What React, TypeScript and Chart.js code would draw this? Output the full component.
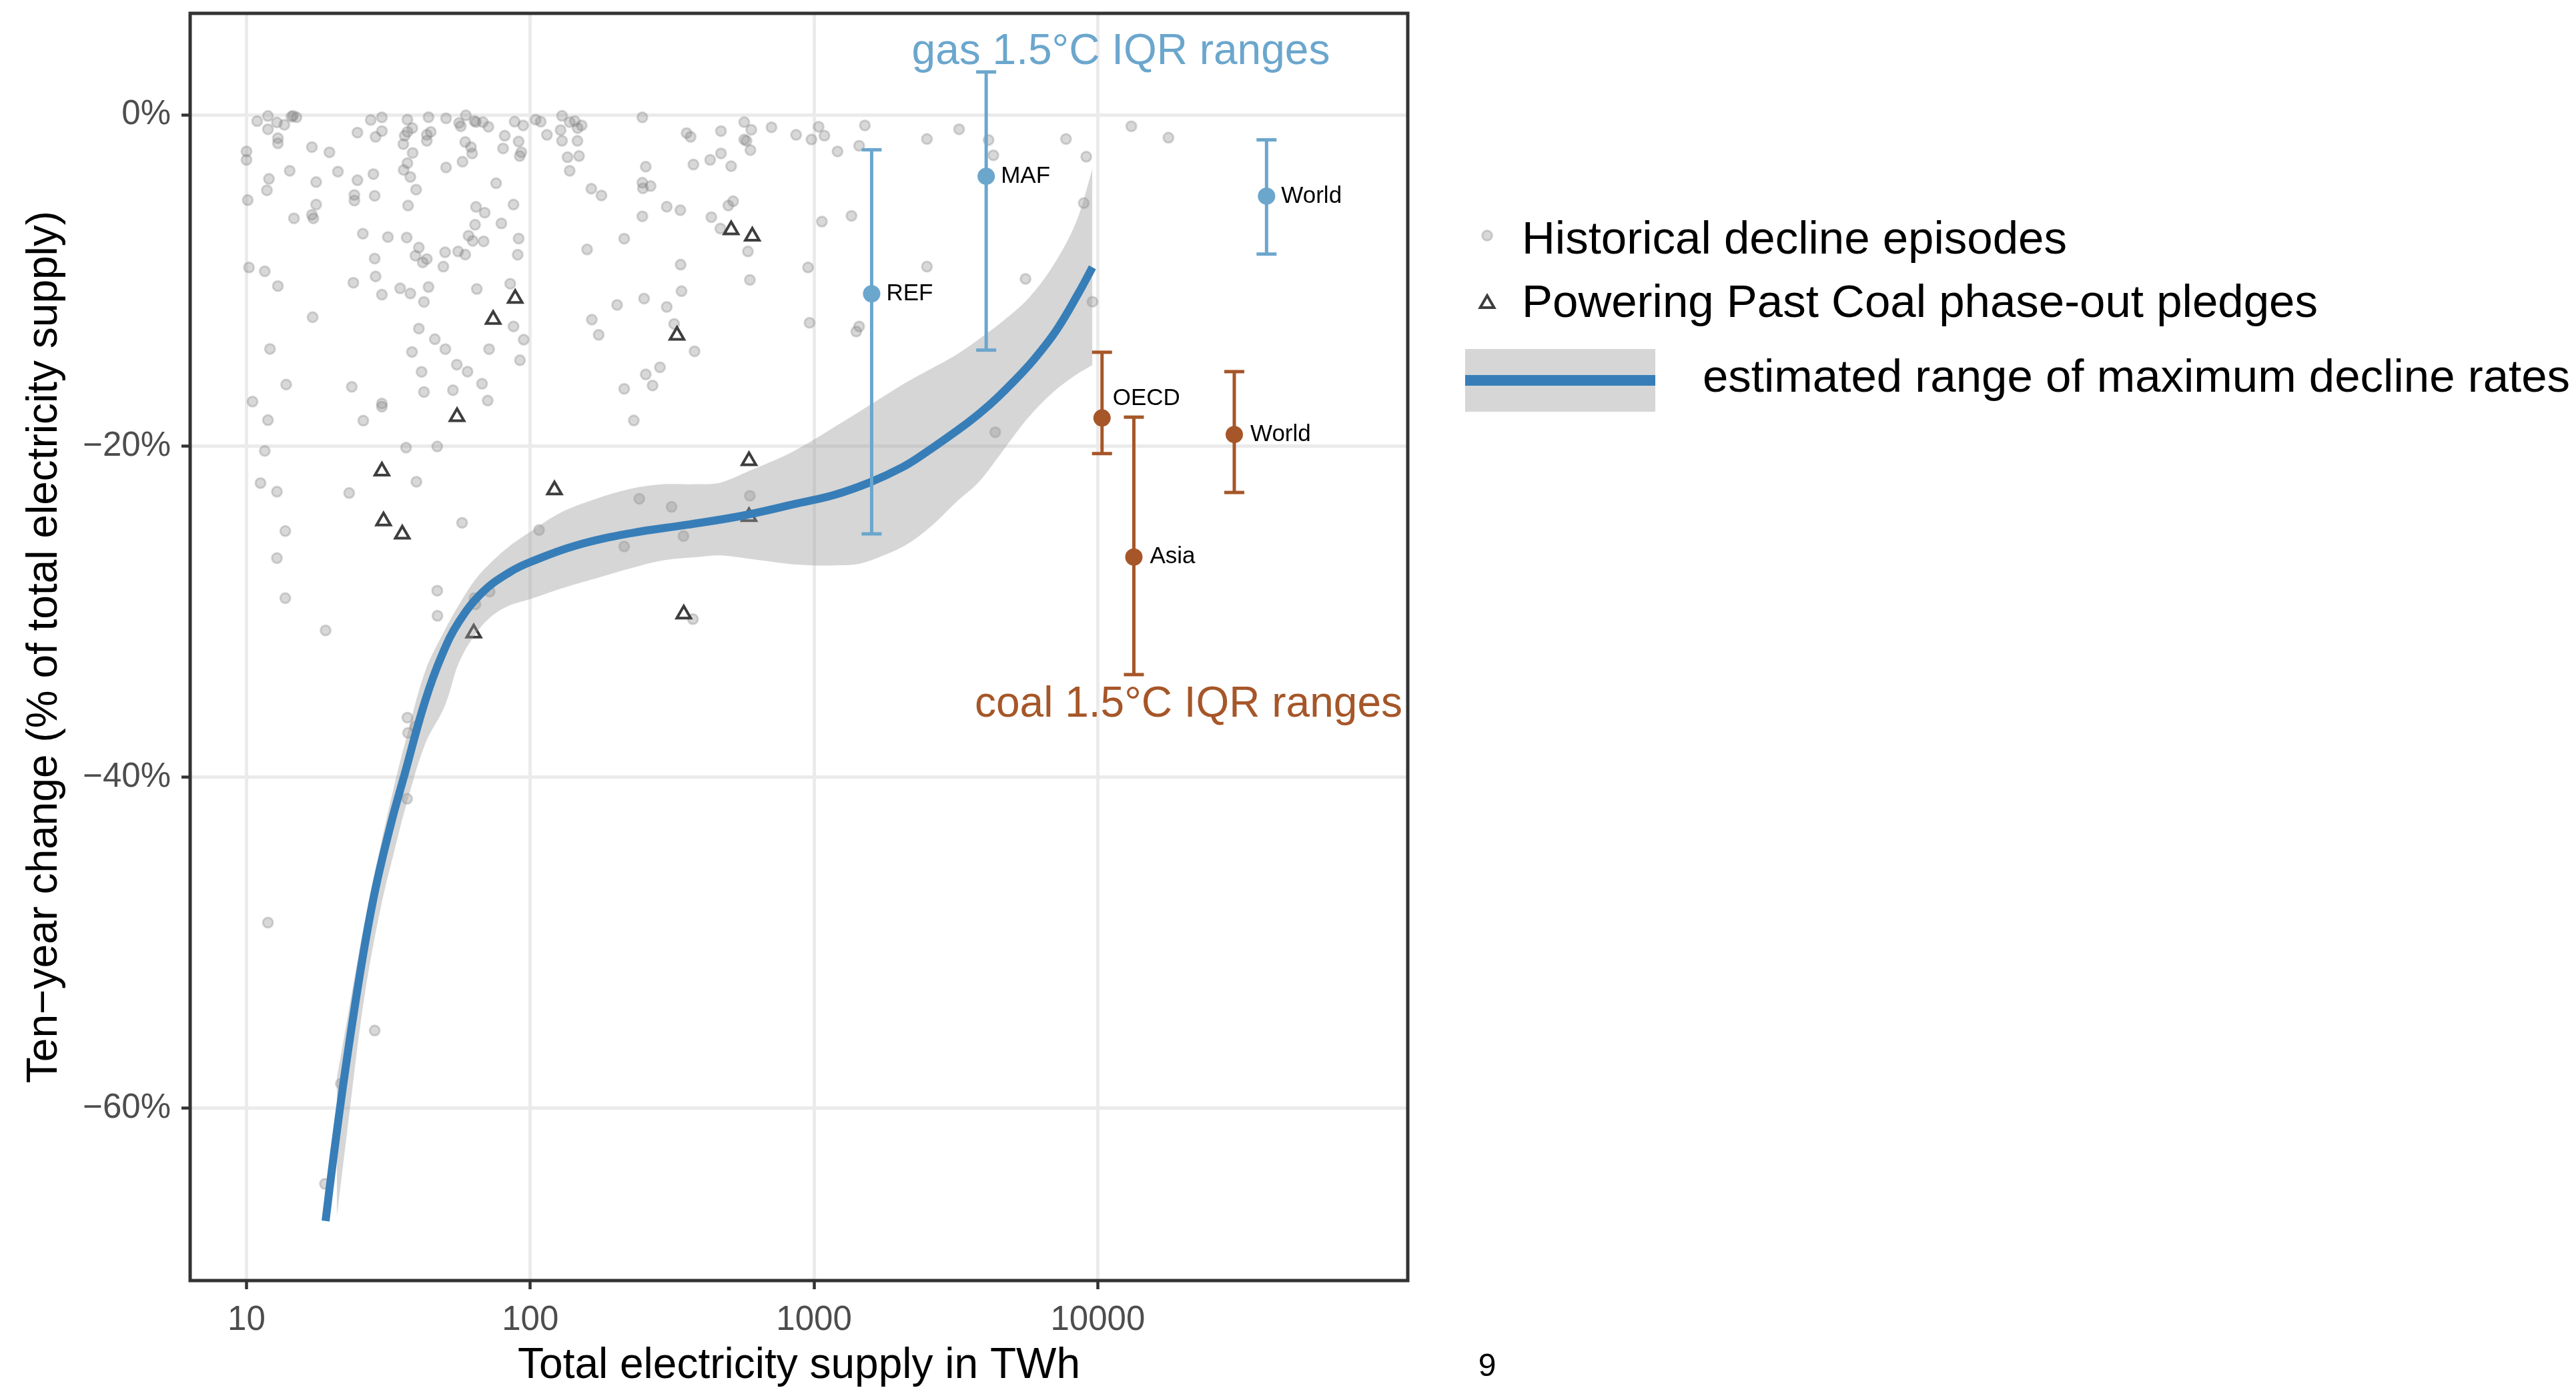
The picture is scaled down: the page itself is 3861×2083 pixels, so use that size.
import React, { useEffect, useRef } from 'react';
import { Chart, registerables } from 'chart.js';

Chart.register(...registerables);

const W = 3861;
const H = 2083;
const FONT = '"Liberation Sans", Arial, Helvetica, sans-serif';

// ---------- tick values ----------
const xTicks = [10, 100, 1000, 10000];
const yTicks = [-60, -40, -20, 0];

// ---------- historical decline episodes (TWh, % change) ----------
const histX = [
  10.9, 11.9, 11.9, 12.8, 13.6, 14.4, 14.6, 15.0, 27.4, 30.0, 36.9, 43.8, 50.5, 56.1, 56.9, 59.3, 63.6, 64.4, 68.1, 71.2,
  88.1, 94.4, 104.5, 108.9, 129.4, 137.7, 143.6, 146.9, 151.8, 248.3, 24.6, 28.5, 30.0, 36.9, 38.4, 36.1, 35.7, 43.2, 44.6, 43.2,
  59.0, 61.8, 62.4, 81.3, 91.0, 80.2, 91.8, 93.0, 114.5, 127.9, 129.4, 146.6, 135.3, 148.6, 355.6, 367.3, 10.0, 10.0, 12.9, 12.9,
  17.0, 19.6, 38.5, 470, 470, 36.9, 35.8, 37.8, 14.2, 21.0, 12.0, 11.8, 17.6, 24.6, 28.0, 57.7, 50.5, 75.8, 137.7, 255.3,
  375.8, 430.5, 248.3, 249.5, 265.5, 164.1, 178.2, 10.1, 17.6, 24.0, 24.0, 28.3, 39.6, 37.1, 64.4, 69.1, 87.3, 302.7, 338.0, 248.3,
  434.5, 467.7, 14.7, 17.0, 17.2, 25.7, 31.5, 36.7, 63.9, 79.1, 60.6, 62.7, 68.5, 91.0, 40.5, 39.4, 41.8, 43.2, 50.1, 55.7,
  59.0, 90.3, 49.4, 28.3, 158.6, 214.3, 338.8, 10.2, 11.6, 12.9, 23.8, 28.5, 30.0, 34.8, 37.8, 43.8, 42.2, 64.8, 85.0, 202.3,
  251.8, 302.7, 341.2, 17.1, 40.5, 87.3, 94.8, 46.1, 50.2, 71.6, 164.8, 174.2, 321.4, 379.3, 12.1, 38.3, 92.0, 55.1, 60.1, 41.4,
  286.4, 255.3, 269.8, 214.3, 13.8, 23.5, 42.2, 53.4, 67.6, 10.5, 30.0, 70.8, 11.9, 30.0, 25.8, 231.7, 11.6, 36.5, 47.0, 11.2,
  12.8, 23.0, 39.7, 13.7, 57.5, 12.8, 47.0, 13.7, 63.6, 71.9, 64.1, 47.1, 19.0, 107.4, 242.2, 314.8, 346.7, 214.3, 374.3, 36.9,
  39.3, 37.1, 11.9, 28.3, 21.5, 18.9, 36.8, 498.9, 510.5, 518.8, 567.5, 567.5, 578.1, 584.8, 594.3, 596.8, 601.0, 708.0, 864.8, 952.7,
  964.4, 979.5, 1038, 1066, 1088, 1210, 1355, 1409, 1442, 1442, 1511, 2500, 2500, 3245, 4121, 4285, 5562, 7727, 8928, 9106,
  9575, 13130, 17740, 594, 4352,
];
const histY = [
  -0.37, -0.06, -0.86, -0.45, -0.59, -0.10, -0.05, -0.14, -0.30, -0.14, -0.28, -0.13, -0.20, -0.48, -0.68, -0.02, -0.36, -0.43, -0.43, -0.71,
  -0.40, -0.63, -0.28, -0.40, -0.05, -0.43, -0.37, -0.79, -0.63, -0.14, -1.06, -1.32, -0.97, -1.02, -0.79, -1.25, -1.76, -1.56, -1.02, -1.20,
  -1.63, -1.94, -2.32, -1.25, -1.60, -2.02, -2.48, -2.25, -1.20, -0.91, -1.56, -1.56, -2.55, -2.48, -1.09, -1.32, -2.20, -2.71, -1.40, -1.71,
  -1.94, -2.25, -2.29, -0.97, -2.32, -2.91, -3.32, -3.74, -3.37, -3.42, -3.86, -4.55, -4.05, -3.94, -3.57, -2.82, -3.17, -4.12, -3.37, -3.12,
  -2.99, -2.71, -4.09, -4.43, -4.29, -4.45, -4.86, -5.14, -5.41, -4.83, -5.17, -4.88, -4.51, -5.47, -5.55, -5.90, -5.41, -5.54, -5.75, -6.12,
  -6.17, -6.86, -6.24, -6.03, -6.24, -7.17, -7.37, -7.40, -6.63, -6.55, -7.29, -7.60, -7.63, -7.46, -8.01, -8.50, -8.90, -8.70, -8.29, -8.24,
  -8.43, -8.44, -9.16, -8.67, -8.12, -7.47, -9.04, -9.21, -9.44, -10.33, -10.13, -9.75, -10.85, -10.47, -10.78, -10.39, -11.29, -10.51, -10.19, -11.47,
  -11.09, -11.59, -10.64, -12.21, -12.90, -12.77, -13.57, -13.54, -14.14, -14.14, -12.36, -13.28, -12.62, -14.27, -14.13, -14.31, -14.81, -15.08, -15.50, -15.51,
  -15.24, -15.67, -16.34, -16.54, -16.28, -16.42, -16.73, -16.62, -16.23, -17.31, -17.43, -17.25, -18.43, -17.62, -18.46, -18.45, -20.29, -20.09, -20.02, -22.23,
  -22.75, -22.83, -22.15, -25.13, -24.63, -26.76, -28.73, -29.18, -29.18, -28.79, -29.56, -30.25, -31.13, -25.07, -23.18, -23.67, -25.43, -26.06, -30.45, -36.40,
  -36.94, -37.32, -48.78, -55.30, -58.51, -64.56, -41.30, -5.47, -3.09, -5.21, -0.43, -1.48, -1.56, -8.24, -9.96, -2.12, -0.89, -0.74, -1.20, -9.21,
  -12.55, -1.48, -0.71, -6.44, -1.25, -2.20, -6.09, -13.08, -1.86, -12.77, -0.63, -1.45, -9.16, -0.86, -1.51, -2.43, -9.90, -1.45, -5.32, -2.52,
  -11.28, -0.68, -1.37, -23.0, -19.16,
];

// ---------- Powering Past Coal pledges ----------
const pledgeX = [88.5, 74.0, 328.9, 55.2, 30.0, 30.4, 35.4, 121.7, 347.5, 63.2, 510.5, 606, 590, 590];
const pledgeY = [-11.08, -12.35, -13.31, -18.22, -21.51, -24.52, -25.32, -22.65, -30.14, -31.29, -6.94, -7.32, -20.88, -24.26];

// ---------- fitted maximum decline rate and its range ----------
const fitX = [19.0, 20.2, 22.5, 25.6, 28.5, 32.3, 36.1, 42.6, 48.9, 56.1, 68.1, 84.9, 100, 144.9, 227.5, 357, 561, 880, 1176, 1569, 2036, 2420, 3472, 4159, 4983, 5966, 7148, 8558, 9575];
const fitY = [-66.8, -63.1, -57.2, -51.0, -46.7, -42.8, -39.8, -35.4, -32.6, -30.6, -28.8, -27.6, -27.0, -26.0, -25.25, -24.75, -24.2, -23.45, -22.95, -22.2, -21.3, -20.5, -18.6, -17.5, -16.2, -14.75, -13.0, -10.75, -9.2];

const bandX = [20.8, 22.6, 25.9, 29.7, 33.7, 36.1, 42.6, 50, 56, 64.4, 74, 85, 97.5, 128.5, 169.4, 223, 294, 388, 468, 590, 805, 979, 1191, 1449, 1758, 2138, 2600, 3162, 3838, 4667, 5675, 6902, 8375, 9575];
const bandHigh = [-58.2, -54.7, -49.0, -44.1, -40.0, -38.0, -33.6, -31.1, -29.6, -28.0, -26.9, -26.0, -25.3, -24.0, -23.2, -22.6, -22.3, -22.3, -22.2, -21.5, -20.5, -19.7, -18.8, -17.9, -17.0, -16.1, -15.3, -14.5, -13.5, -12.4, -11.1, -9.2, -6.5, -3.25];
const bandLow = [-66.6, -61.5, -53.5, -47.9, -44.0, -42.0, -38.0, -35.7, -33.1, -31.3, -30.2, -29.6, -29.3, -28.6, -28.0, -27.4, -26.9, -26.7, -26.6, -26.8, -27.1, -27.2, -27.2, -27.1, -26.6, -25.9, -24.8, -23.4, -22.1, -20.2, -18.3, -16.8, -15.7, -15.1];

// ---------- 1.5°C IQR ranges ----------
const gasLabels = ['REF', 'MAF', 'World'];
const gasX = [1596, 4043, 39330];
const gasMid = [-10.8, -3.7, -4.9];
const gasLow = [-25.3, -14.2, -8.4];
const gasHigh = [-2.1, 2.6, -1.5];

const coalLabels = ['OECD', 'Asia', 'World'];
const coalX = [10350, 13400, 30270];
const coalMid = [-18.3, -26.7, -19.3];
const coalLow = [-20.45, -33.8, -22.8];
const coalHigh = [-14.33, -18.25, -15.5];

// ---------- texts ----------
const gasNote = 'gas 1.5°C IQR ranges';
const coalNote = 'coal 1.5°C IQR ranges';
const legendLabels = ['Historical decline episodes', 'Powering Past Coal phase-out pledges', 'estimated range of maximum decline rates'];
const xTitle = 'Total electricity supply in TWh';
const yTitle = 'Ten\u2212year change (% of total electricity supply)';
const pageNumber = '9';

const GAS = '#6BA6CD';
const COAL = '#A65628';
const FIT = '#377EB8';
const PT = 'rgba(127,127,127,0.3)';
const BAND = 'rgba(153,153,153,0.4)';
const TRI = '#3D3D3D';

function tri(ctx: CanvasRenderingContext2D, x: number, y: number, r: number) {
  ctx.beginPath();
  for (let k = 0; k < 3; k++) {
    const a = (k * 2 * Math.PI) / 3;
    const px = x + Math.sin(a) * r;
    const py = y - Math.cos(a) * r;
    if (k === 0) ctx.moveTo(px, py);
    else ctx.lineTo(px, py);
  }
  ctx.closePath();
}

const overlay = {
  id: 'overlay',
  afterDatasetsDraw(chart: any) {
    const ctx: CanvasRenderingContext2D = chart.ctx;
    const xs = chart.scales.x;
    const ys = chart.scales.y;
    const a = chart.chartArea;
    ctx.save();
    // value labels
    ctx.fillStyle = '#000';
    ctx.font = `35px ${FONT}`;
    ctx.textBaseline = 'middle';
    ctx.textAlign = 'left';
    gasLabels.forEach((l, i) => {
      ctx.fillText(l, xs.getPixelForValue(gasX[i]) + 22, ys.getPixelForValue(gasMid[i]));
    });
    coalLabels.forEach((l, i) => {
      const dy = l === 'OECD' ? -29 : 0;
      const dx = l === 'OECD' ? 16 : 24;
      ctx.fillText(l, xs.getPixelForValue(coalX[i]) + dx, ys.getPixelForValue(coalMid[i]) + dy);
    });
    // group notes
    ctx.font = `64px ${FONT}`;
    ctx.textAlign = 'center';
    ctx.textBaseline = 'alphabetic';
    ctx.fillStyle = GAS;
    ctx.fillText(gasNote, xs.getPixelForValue(12060), ys.getPixelForValue(3.09));
    ctx.fillStyle = COAL;
    ctx.fillText(coalNote, xs.getPixelForValue(20890), ys.getPixelForValue(-36.35));
    // panel border
    ctx.strokeStyle = '#333333';
    ctx.lineWidth = 5;
    ctx.strokeRect(a.left, a.top, a.right - a.left, a.bottom - a.top);
    ctx.restore();
  },
  afterDraw(chart: any) {
    const ctx: CanvasRenderingContext2D = chart.ctx;
    ctx.save();
    // legend
    ctx.beginPath();
    ctx.arc(2229, 353, 7.5, 0, Math.PI * 2);
    ctx.fillStyle = PT;
    ctx.fill();
    ctx.strokeStyle = PT;
    ctx.lineWidth = 3;
    ctx.stroke();
    tri(ctx, 2229, 455, 12);
    ctx.strokeStyle = TRI;
    ctx.lineWidth = 4;
    ctx.stroke();
    ctx.fillStyle = BAND;
    ctx.fillRect(2196, 523, 285, 94);
    ctx.fillStyle = FIT;
    ctx.fillRect(2196, 562, 285, 16);
    ctx.fillStyle = '#000';
    ctx.font = `69px ${FONT}`;
    ctx.textAlign = 'left';
    ctx.textBaseline = 'middle';
    ctx.fillText(legendLabels[0], 2281, 361);
    ctx.fillText(legendLabels[1], 2281, 456);
    ctx.fillText(legendLabels[2], 2552, 568);
    // page number
    ctx.font = `48px ${FONT}`;
    ctx.textAlign = 'center';
    ctx.fillText(pageNumber, 2229, 2049);
    ctx.restore();
  },
};

export default function App() {
  const ref = useRef<HTMLCanvasElement>(null);
  useEffect(() => {
    const canvas = ref.current;
    if (!canvas) return;
    const errDatasets: any[] = [];
    gasX.forEach((x, i) => {
      errDatasets.push({
        type: 'line',
        data: [{ x, y: gasLow[i] }, { x, y: gasHigh[i] }],
        borderColor: GAS,
        borderWidth: 5,
        pointStyle: 'line',
        pointRadius: 15,
        pointBorderWidth: 5,
        pointBorderColor: GAS,
        fill: false,
        order: 1,
      });
    });
    coalX.forEach((x, i) => {
      errDatasets.push({
        type: 'line',
        data: [{ x, y: coalLow[i] }, { x, y: coalHigh[i] }],
        borderColor: COAL,
        borderWidth: 5,
        pointStyle: 'line',
        pointRadius: 15,
        pointBorderWidth: 5,
        pointBorderColor: COAL,
        fill: false,
        order: 1,
      });
    });
    const gridBase = {
      color: '#EBEBEB',
      lineWidth: 5,
      tickColor: '#333333',
      tickWidth: 4.5,
      tickLength: 13,
      drawTicks: true,
    };
    const chart = new Chart(canvas, {
      type: 'scatter',
      data: {
        datasets: [
          {
            type: 'scatter',
            data: histX.map((x, i) => ({ x, y: histY[i] })),
            pointRadius: 7.5,
            pointBackgroundColor: PT,
            pointBorderColor: PT,
            pointBorderWidth: 3,
            order: 5,
          },
          {
            type: 'scatter',
            data: pledgeX.map((x, i) => ({ x, y: pledgeY[i] })),
            pointStyle: 'triangle',
            pointRadius: 12,
            pointBackgroundColor: 'rgba(0,0,0,0)',
            pointBorderColor: TRI,
            pointBorderWidth: 4,
            order: 4,
          },
          {
            type: 'line',
            data: bandX.map((x, i) => ({ x, y: bandHigh[i] })),
            borderWidth: 0,
            borderColor: 'rgba(0,0,0,0)',
            pointRadius: 0,
            backgroundColor: BAND,
            fill: '+1',
            tension: 0.35,
            order: 3,
          },
          {
            type: 'line',
            data: bandX.map((x, i) => ({ x, y: bandLow[i] })),
            borderWidth: 0,
            borderColor: 'rgba(0,0,0,0)',
            pointRadius: 0,
            fill: false,
            tension: 0.35,
            order: 3,
          },
          {
            type: 'line',
            data: fitX.map((x, i) => ({ x, y: fitY[i] })),
            borderColor: FIT,
            borderWidth: 12,
            pointRadius: 0,
            fill: false,
            tension: 0.4,
            borderCapStyle: 'butt',
            order: 2,
          },
          ...errDatasets,
          {
            type: 'scatter',
            data: gasX.map((x, i) => ({ x, y: gasMid[i] })),
            pointRadius: 13,
            pointBackgroundColor: GAS,
            pointBorderWidth: 0,
            order: 0,
          },
          {
            type: 'scatter',
            data: coalX.map((x, i) => ({ x, y: coalMid[i] })),
            pointRadius: 13,
            pointBackgroundColor: COAL,
            pointBorderWidth: 0,
            order: 0,
          },
        ] as any,
      },
      options: {
        responsive: false,
        animation: false,
        devicePixelRatio: 1,
        layout: { padding: { left: 0, top: 13, right: W - 2110, bottom: 0 } },
        plugins: { legend: { display: false }, tooltip: { enabled: false } },
        scales: {
          x: {
            type: 'logarithmic',
            position: 'bottom',
            min: 6.33,
            max: 123700,
            afterBuildTicks: (s: any) => {
              s.ticks = xTicks.map((v) => ({ value: v }));
            },
            afterFit: (s: any) => {
              s.height = H - 1919;
              s.paddingLeft = 0;
              s.paddingRight = 0;
            },
            ticks: {
              autoSkip: false,
              maxRotation: 0,
              padding: 16,
              color: '#4D4D4D',
              font: { family: FONT, size: 51 },
              callback: (v: any) => String(v),
            },
            grid: gridBase,
            border: { display: false },
            title: {
              display: true,
              text: xTitle,
              color: '#000',
              font: { family: FONT, size: 64, lineHeight: 1.12 },
              padding: 0,
            },
          },
          y: {
            type: 'linear',
            position: 'left',
            min: -70.4,
            max: 6.14,
            afterBuildTicks: (s: any) => {
              s.ticks = yTicks.map((v) => ({ value: v }));
            },
            afterFit: (s: any) => {
              s.width = 285;
              s.paddingTop = 0;
              s.paddingBottom = 0;
            },
            ticks: {
              padding: 16,
              color: '#4D4D4D',
              font: { family: FONT, size: 51 },
              callback: (v: any) => (v === 0 ? '0%' : '\u2212' + Math.abs(v) + '%'),
            },
            grid: gridBase,
            border: { display: false },
            title: {
              display: true,
              text: yTitle,
              color: '#000',
              font: { family: FONT, size: 64, lineHeight: 1.2 },
              padding: { top: 29, bottom: 0 },
            },
          },
        },
      },
      plugins: [overlay],
    } as any);
    return () => chart.destroy();
  }, []);
  return (
    <div style={{ position: 'absolute', left: 0, top: 0, width: W, height: H, background: '#fff' }}>
      <canvas ref={ref} width={W} height={H} style={{ width: W, height: H, display: 'block' }} />
    </div>
  );
}
